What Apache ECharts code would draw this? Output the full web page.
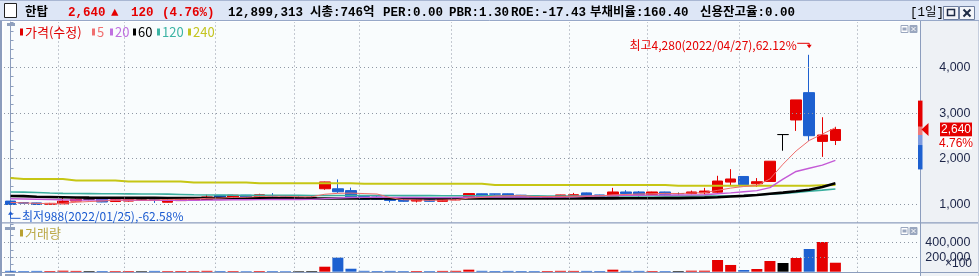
<!DOCTYPE html>
<html>
<head>
<meta charset="utf-8">
<script src="https://cdn.jsdelivr.net/npm/echarts@6.0.0/dist/echarts.min.js"></script>
<style>
html,body{margin:0;padding:0;background:#ffffff;overflow:hidden}
#chart{width:979px;height:276px}
</style>
</head>
<body>
<div id="chart"></div>
<script>
// ---------------- data ----------------
const dates = [
'2022/01/25','2022/01/26','2022/01/27','2022/01/28',
'2022/02/03','2022/02/04','2022/02/07','2022/02/08','2022/02/09','2022/02/10','2022/02/11','2022/02/14','2022/02/15','2022/02/16','2022/02/17','2022/02/18','2022/02/21','2022/02/22','2022/02/23','2022/02/24','2022/02/25','2022/02/28',
'2022/03/02','2022/03/03','2022/03/04','2022/03/07','2022/03/08','2022/03/10','2022/03/11','2022/03/14','2022/03/15','2022/03/16','2022/03/17','2022/03/18','2022/03/21','2022/03/22','2022/03/23','2022/03/24','2022/03/25','2022/03/28','2022/03/29','2022/03/30','2022/03/31',
'2022/04/01','2022/04/04','2022/04/05','2022/04/06','2022/04/07','2022/04/08','2022/04/11','2022/04/12','2022/04/13','2022/04/14','2022/04/15','2022/04/18','2022/04/19','2022/04/20','2022/04/21','2022/04/22','2022/04/25','2022/04/26','2022/04/27','2022/04/28','2022/04/29'
];
const futureSlots = ['', '', '', '', '', ''];

const openP  = [1070,1035,1030,1000,1010,1070,1110,1110,1060,1070,1105,1115,1045,1080,1095,1105,1195,1150,1200,1155,1185,1165,1150,1150,1340,1340,1300,1170,1160,1150,1110,1070,1110,1065,1095,1145,1230,1228,1230,1200,1185,1130,1140,1185,1250,1205,1165,1270,1270,1215,1270,1235,1235,1250,1265,1487,1610,1450,1500,2530,2850,3450,2380,2400];
const closeP = [995,1025,995,1020,1070,1110,1110,1050,1100,1105,1105,1105,1100,1130,1145,1160,1130,1200,1150,1210,1180,1135,1150,1150,1490,1275,1145,1105,1110,1085,1065,1105,1065,1135,1140,1235,1165,1222,1165,1160,1145,1165,1205,1210,1185,1165,1270,1235,1215,1270,1215,1235,1270,1290,1510,1555,1430,1495,1945,2530,3290,2505,2520,2640];
const lowP   = [988,1020,990,995,1005,1065,1090,1045,1055,1060,1080,1030,1040,1075,1090,1100,1125,1145,1145,1150,1140,1125,1120,1100,1318,1250,1140,1095,1100,1040,1055,1040,1060,1060,1090,1140,1160,1170,1160,1150,1130,1110,1135,1180,1180,1160,1160,1225,1160,1205,1190,1215,1220,1210,1255,1405,1425,1380,1490,2175,2610,2390,2040,2300];
const highP  = [1075,1040,1035,1030,1150,1130,1135,1115,1120,1125,1135,1135,1110,1135,1150,1210,1200,1205,1205,1230,1245,1170,1170,1170,1495,1545,1365,1175,1190,1155,1120,1110,1115,1140,1145,1245,1235,1228,1235,1205,1190,1170,1210,1250,1255,1210,1360,1310,1290,1275,1275,1255,1300,1360,1625,1770,1615,1575,1945,2530,3290,4280,2910,2700];
// volume in units of 100 shares
const volume = [12000,9000,11000,10000,14000,11000,9000,10000,9000,10000,8000,11000,9000,10000,9000,12000,10000,9000,8000,10000,9000,8000,8000,9000,69000,194000,41000,12000,10000,11000,9000,10000,9000,11000,12000,28000,12000,10000,11000,10000,9000,10000,12000,11000,11000,10000,28000,12000,11000,10000,9000,9000,14000,14000,162000,93000,23000,37000,148000,120000,189000,314000,410000,124000];

const ma5   = [1040,1030,1020,1015,1020,1045,1060,1070,1090,1095,1095,1095,1105,1110,1115,1130,1135,1150,1155,1170,1175,1175,1165,1165,1220,1240,1245,1235,1225,1145,1100,1095,1085,1090,1100,1135,1150,1180,1185,1190,1170,1170,1170,1175,1180,1185,1205,1215,1225,1230,1240,1235,1245,1255,1305,1355,1390,1410,1555,1880,2170,2400,2540,2680];
const ma20  = [1120,1116,1110,1104,1098,1094,1092,1090,1090,1088,1086,1085,1085,1086,1088,1090,1094,1098,1100,1102,1104,1105,1106,1108,1125,1138,1148,1152,1155,1152,1150,1147,1145,1146,1150,1155,1158,1160,1160,1160,1158,1158,1160,1162,1175,1185,1192,1196,1198,1200,1202,1204,1206,1210,1230,1250,1275,1300,1365,1550,1720,1790,1860,1965];
const ma60  = [1182,1178,1165,1160,1155,1148,1145,1143,1142,1141,1140,1140,1139,1138,1137,1136,1134,1132,1131,1130,1130,1129,1129,1128,1128,1128,1128,1127,1127,1127,1127,1127,1127,1127,1127,1127,1127,1128,1128,1128,1128,1128,1128,1128,1129,1129,1130,1131,1132,1133,1134,1135,1140,1145,1155,1170,1185,1205,1230,1255,1285,1320,1380,1460];
const ma120 = [1270,1266,1258,1248,1240,1236,1234,1232,1230,1228,1226,1224,1222,1215,1208,1204,1202,1200,1199,1198,1197,1196,1195,1194,1194,1193,1193,1192,1192,1191,1190,1190,1189,1188,1187,1186,1186,1185,1185,1184,1184,1183,1183,1182,1182,1181,1181,1181,1180,1180,1180,1180,1181,1182,1183,1185,1190,1205,1220,1240,1262,1286,1310,1335];
const ma240 = [1574,1552,1552,1552,1552,1523,1523,1523,1523,1501,1501,1501,1501,1501,1479,1479,1479,1479,1479,1464,1464,1464,1464,1464,1464,1464,1464,1450,1450,1450,1450,1450,1450,1450,1450,1450,1450,1425,1425,1425,1425,1425,1425,1425,1425,1425,1425,1425,1425,1425,1425,1405,1405,1405,1405,1405,1405,1405,1405,1405,1405,1405,1415,1425];

const priceTickLabels = [1000, 2000, 3000, 4000];
const volumeTickLabels = [200000, 400000];
const dekadStartIdx = [4, 9, 16, 22, 27, 34, 43, 49, 56, 65];

const stockName = '한탑';
const lastPrice = 2640, priceChange = 120, changePct = '4.76%';
const infoItems = ['12,899,313', '시총:746억', 'PER:0.00', 'PBR:1.30', 'ROE:-17.43', '부채비율:160.40', '신용잔고율:0.00'];
const periodLabel = '[1일]';
const legendNames = ['가격(수정)', '5', '20', '60', '120', '240'];
const volumeName = '거래량';
const volumeUnit = '×100';
const highMark = {idx: 61, price: 4280, text: '최고4,280(2022/04/27),62.12%'};
const lowMark  = {idx: 0, price: 988, text: '최저988(2022/01/25),-62.58%'};
const prevClose = 2520, dayHigh = 2700, dayLow = 2300, upperLimit = 3275, lowerLimit = 1765;

// ---------------- styles ----------------
const RED = '#e50000', BLUE = '#1d60d0', FLAT = '#000000';
const FRAME = '#8c9dbd';
const AXIS_TXT = '#1c2548';
const FONT_K = '"Noto Sans CJK KR", "Liberation Sans", sans-serif';
const FONT_N = '"Liberation Sans", "Noto Sans CJK KR", sans-serif';
const FONT_H = '"Liberation Mono", "Noto Sans CJK KR", monospace';
const GRID_COLOR = '#8e97a4';
const dot = () => ({type: [1, 3], color: GRID_COLOR, width: 1});
const maColors = ['#ef6b6b', '#c45ad6', '#000000', '#3aae9e', '#c6c614'];
const legendColors = ['#e00000', '#f07070', '#c070e0', '#000000', '#3cb4a4', '#c4c420'];
const fmt = v => v.toLocaleString('en-US');
const GRIDLINE_SHIFT = -0.35; // line sits at the left edge of the first candle body of each period

const cats = dates.concat(futureSlots);
const candleColor = i => closeP[i] > openP[i] ? RED : (closeP[i] < openP[i] ? BLUE : FLAT);

const chart = echarts.init(document.getElementById('chart'), null, {renderer: 'canvas'});

const catAxis = g => ({
  type: 'category', gridIndex: g, data: cats, boundaryGap: true,
  axisLine: {show: false}, axisTick: {show: false}, axisLabel: {show: false}, splitLine: {show: false}
});
const idxAxis = g => ({
  type: 'value', gridIndex: g, min: -0.5, max: cats.length - 0.5, show: false,
  axisLine: {show: false}, axisTick: {show: false}, axisLabel: {show: false}, splitLine: {show: false}
});
const gridMarker = (xi, yi, hVals) => ({
  type: 'line', xAxisIndex: xi, yAxisIndex: yi, data: [], silent: true, symbol: 'none',
  markLine: {silent: true, symbol: 'none', label: {show: false}, lineStyle: dot(), animation: false,
             emphasis: {disabled: true},
             data: dekadStartIdx.map(k => ({xAxis: k + GRIDLINE_SHIFT})).concat(hVals.map(v => ({yAxis: v})))}
});

const maLine = (name, data, color, width) => ({
  name, type: 'line', xAxisIndex: 0, yAxisIndex: 0, data, symbol: 'none', silent: true,
  lineStyle: {color, width}, itemStyle: {color}
});

const option = {
  animation: false,
  backgroundColor: '#ffffff',
  grid: [
    {left: 4, top: 22, width: 916.5, height: 200.5, show: true, backgroundColor: '#f9fcfd', borderWidth: 0},
    {left: 4, top: 224, width: 916.5, height: 47.7, show: true, backgroundColor: '#f9fcfd', borderWidth: 0}
  ],
  xAxis: [catAxis(0), catAxis(1), idxAxis(0), idxAxis(1)],
  yAxis: [
    {type: 'value', gridIndex: 0, position: 'right', min: 600, max: 5000, interval: 200,
     axisLine: {show: true, lineStyle: {color: FRAME, width: 1}},
     axisTick: {show: true, length: 3, lineStyle: {color: FRAME}},
     axisLabel: {formatter: v => priceTickLabels.includes(v) ? fmt(v) : '', color: AXIS_TXT, fontSize: 12.5, fontFamily: FONT_N, align: 'right', margin: 50},
     splitLine: {show: false}},
    {type: 'value', gridIndex: 1, position: 'right', min: 0, max: 659000, interval: 100000,
     axisLine: {show: true, lineStyle: {color: FRAME, width: 1}},
     axisTick: {show: true, length: 3, lineStyle: {color: FRAME}},
     axisLabel: {formatter: v => volumeTickLabels.includes(v) ? fmt(v) : '', color: AXIS_TXT, fontSize: 12.5, fontFamily: FONT_N, align: 'right', margin: 50},
     splitLine: {show: false}}
  ],
  series: [
    gridMarker(2, 0, priceTickLabels),
    gridMarker(3, 1, volumeTickLabels),
    maLine('240', ma240, maColors[4], 2),
    maLine('120', ma120, maColors[3], 1.6),
    maLine('60', ma60, maColors[2], 2.6),
    maLine('20', ma20, maColors[1], 1.4),
    maLine('5', ma5, maColors[0], 1),
    {
      name: '가격(수정)', type: 'candlestick', xAxisIndex: 0, yAxisIndex: 0, barWidth: 11,
      data: openP.map((o, i) => [o, closeP[i], lowP[i], highP[i]]),
      itemStyle: {color: RED, color0: BLUE, borderColor: RED, borderColor0: BLUE, borderColorDoji: FLAT, borderWidth: 1}
    },
    {
      name: '거래량', type: 'bar', xAxisIndex: 1, yAxisIndex: 1, barWidth: 11,
      data: volume,
      itemStyle: {color: p => candleColor(p.dataIndex)}
    }
  ]
};
chart.setOption(option);

// ---------------- decorations & annotations ----------------
const P = (i, v, g = 0) => chart.convertToPixel({xAxisIndex: g, yAxisIndex: g}, [i, v]);
const T = (text, x, y, fill, size, family, extra) => Object.assign({
  type: 'text', z: 100,
  style: Object.assign({text, x, y, fill, fontSize: size, fontFamily: family,
    align: 'left', textAlign: 'left', verticalAlign: 'middle', textVerticalAlign: 'middle'}, extra || {})
});
const G = [];
// panel backgrounds
G.push({type: 'rect', z: -10, shape: {x: 0, y: 0, width: 979, height: 21}, style: {fill: '#dde6f6'}});
G.push({type: 'rect', z: -10, shape: {x: 921, y: 21, width: 58, height: 255}, style: {fill: '#eef1f5'}});
// frames
G.push({type: 'line', z: 50, shape: {x1: 0, y1: 0.5, x2: 979, y2: 0.5}, style: {stroke: '#a9b7d3', lineWidth: 1}});
G.push({type: 'line', z: 50, shape: {x1: 0, y1: 20.5, x2: 979, y2: 20.5}, style: {stroke: '#97a8c8', lineWidth: 1}});
G.push({type: 'line', z: 50, shape: {x1: 1, y1: 21, x2: 1, y2: 276}, style: {stroke: FRAME, lineWidth: 2}});
G.push({type: 'line', z: 50, shape: {x1: 0, y1: 222.8, x2: 979, y2: 222.8}, style: {stroke: FRAME, lineWidth: 1.2}});
G.push({type: 'line', z: 50, shape: {x1: 0, y1: 272.5, x2: 979, y2: 272.5}, style: {stroke: FRAME, lineWidth: 1.2}});
G.push({type: 'line', z: 50, shape: {x1: 920.5, y1: 21, x2: 920.5, y2: 276}, style: {stroke: FRAME, lineWidth: 1}});
G.push({type: 'line', z: 50, shape: {x1: 978.5, y1: 21, x2: 978.5, y2: 276}, style: {stroke: '#c5cede', lineWidth: 1}});

// header
G.push({type: 'rect', z: 60, shape: {x: 4.5, y: 3.5, width: 12, height: 14}, style: {fill: '#ffffff', stroke: '#222222', lineWidth: 1}});
const hdr = [
  [stockName, 25, '#000000'],
  [fmt(lastPrice), 68, RED],
  ['▲', 111, RED],
  [String(priceChange), 131, RED],
  ['(' + changePct + ')', 162, RED],
  [infoItems[0], 228, '#000000'],
  [infoItems[1], 310, '#000000'],
  [infoItems[2], 383, '#000000'],
  [infoItems[3], 449, '#000000'],
  [infoItems[4], 511, '#000000'],
  [infoItems[5], 590, '#000000'],
  [infoItems[6], 700, '#000000']
];
hdr.forEach(h => G.push(T(h[0], h[1], 12.5, h[2], 12.5, FONT_H, {fontWeight: 'bold'})));
G.push(T(periodLabel, 910, 12.5, '#000000', 12.5, FONT_H));
// header buttons
[943.5, 959.5].forEach((bx) => {
  G.push({type: 'rect', z: 60, shape: {x: bx, y: 6.5, width: 15, height: 13}, style: {fill: '#f3f5f9', stroke: '#6f7f9f', lineWidth: 1}});
});
G.push({type: 'rect', z: 61, shape: {x: 947.5, y: 9.5, width: 7, height: 6}, style: {fill: 'none', stroke: '#1d2a44', lineWidth: 1.5}});
G.push({type: 'line', z: 61, shape: {x1: 963.5, y1: 9.5, x2: 970.5, y2: 16.5}, style: {stroke: '#1d2a44', lineWidth: 2}});
G.push({type: 'line', z: 61, shape: {x1: 970.5, y1: 9.5, x2: 963.5, y2: 16.5}, style: {stroke: '#1d2a44', lineWidth: 2}});

// panel icons (left) and small buttons (right)
G.push({type: 'rect', z: 60, shape: {x: 7, y: 23, width: 8, height: 3}, style: {fill: '#8fa0bd'}});
G.push({type: 'rect', z: 60, shape: {x: 5, y: 227, width: 10, height: 3}, style: {fill: '#8fa0bd'}});
G.push({type: 'rect', z: 60, shape: {x: 5, y: 274, width: 10, height: 2}, style: {fill: '#8fa0bd'}});
[[25.5], [227.5]].forEach(([by]) => {
  G.push({type: 'rect', z: 60, shape: {x: 901, y: by, width: 7, height: 7}, style: {fill: '#ffffff', stroke: '#9aa7bf', lineWidth: 1}});
  G.push({type: 'rect', z: 61, shape: {x: 902.5, y: by + 2, width: 4, height: 3}, style: {fill: '#9aa7bf'}});
  G.push({type: 'rect', z: 60, shape: {x: 910, y: by, width: 7, height: 7}, style: {fill: '#9aa7bf', stroke: '#9aa7bf', lineWidth: 1}});
  G.push({type: 'line', z: 61, shape: {x1: 911.5, y1: by + 1.5, x2: 915.5, y2: by + 5.5}, style: {stroke: '#ffffff', lineWidth: 1}});
  G.push({type: 'line', z: 61, shape: {x1: 915.5, y1: by + 1.5, x2: 911.5, y2: by + 5.5}, style: {stroke: '#ffffff', lineWidth: 1}});
});

// legends
const legX = [20, 92, 110, 133, 157, 188];
legendNames.forEach((n, k) => {
  G.push({type: 'rect', z: 60, shape: {x: legX[k], y: 28.5, width: 3, height: 7}, style: {fill: legendColors[k]}});
  G.push(T(n, legX[k] + 5, 32, legendColors[k], 13, FONT_K));
});
G.push({type: 'rect', z: 60, shape: {x: 20, y: 229.5, width: 3, height: 7}, style: {fill: '#b8a030'}});
G.push(T(volumeName, 25, 233, '#bba948', 13, FONT_K));
G.push(T(volumeUnit, 972, 264, AXIS_TXT, 12, FONT_N, {align: 'right', textAlign: 'right'}));

// highest annotation
const hp = P(highMark.idx, highMark.price);
G.push(T(highMark.text, hp[0] - 12.5, hp[1] - 9.5, RED, 12, FONT_K, {align: 'right', textAlign: 'right'}));
G.push({type: 'polyline', z: 100, shape: {points: [[hp[0] - 12, hp[1] - 11.5], [hp[0], hp[1] - 11.5], [hp[0], hp[1] - 8]]}, style: {stroke: RED, lineWidth: 1, fill: 'none'}});
G.push({type: 'polygon', z: 100, shape: {points: [[hp[0] - 2.5, hp[1] - 10], [hp[0] + 2.5, hp[1] - 10], [hp[0], hp[1] - 6.5]]}, style: {fill: RED}});

// lowest annotation
const lp = P(lowMark.idx, lowMark.price);
G.push(T(lowMark.text, lp[0] + 11.5, lp[1] + 12, '#1a5ad0', 12, FONT_K));
G.push({type: 'polyline', z: 100, shape: {points: [[lp[0], lp[1] + 8], [lp[0], lp[1] + 13.5], [lp[0] + 10, lp[1] + 13.5]]}, style: {stroke: '#1a5ad0', lineWidth: 1, fill: 'none'}});
G.push({type: 'polygon', z: 100, shape: {points: [[lp[0] - 2.5, lp[1] + 10], [lp[0] + 2.5, lp[1] + 10], [lp[0], lp[1] + 6.5]]}, style: {fill: '#1a5ad0'}});

// daily limit band on the price axis
const yv = v => P(cats.length - 1, v)[1];
[[upperLimit, dayHigh, RED], [dayHigh, prevClose, '#f07a7a'], [prevClose, dayLow, '#7d9be0'], [dayLow, lowerLimit, BLUE]].forEach(([a, b, c]) => {
  const y1 = yv(a), y2 = yv(b);
  G.push({type: 'rect', z: 70, shape: {x: 918, y: y1, width: 4.5, height: y2 - y1}, style: {fill: c}});
});

// current price tag
const yC = yv(lastPrice);
G.push({type: 'polygon', z: 80, shape: {points: [[921.5, yC], [928.5, yC - 6.5], [928.5, yC + 6.5]]}, style: {fill: RED}});
G.push({type: 'rect', z: 80, shape: {x: 940, y: yC - 7, width: 32, height: 14}, style: {fill: RED}});
G.push(T(fmt(lastPrice), 956, yC, '#ffffff', 12, FONT_N, {align: 'center', textAlign: 'center'}));
G.push({type: 'rect', z: 80, shape: {x: 940, y: yC + 7, width: 32, height: 13}, style: {fill: '#ffffff'}});
G.push(T(changePct, 956, yC + 14, RED, 12, FONT_N, {align: 'center', textAlign: 'center'}));

chart.setOption({graphic: {elements: G}});
</script>
</body>
</html>
